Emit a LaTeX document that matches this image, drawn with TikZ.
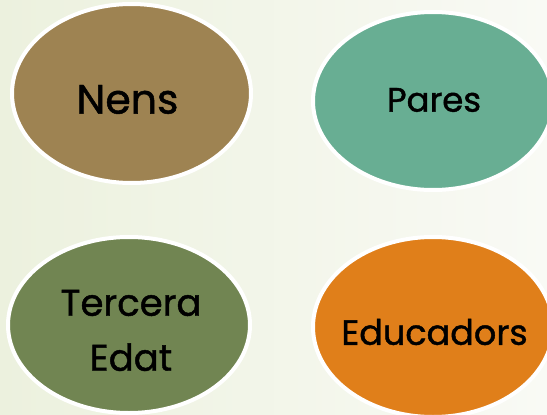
\documentclass[tikz,border=0pt]{standalone}
\usepackage{fontspec}
\setmainfont[FakeBold=1.2]{Poppins}
\usepackage{tikz}
\usetikzlibrary{shapes.geometric}
\definecolor{brown1}{RGB}{158, 131, 82}
\definecolor{green1}{RGB}{104, 174, 147}
\definecolor{olive1}{RGB}{113, 133, 82}
\definecolor{orange1}{RGB}{224, 127, 26}
\definecolor{bgleft}{RGB}{236, 241, 222}
\definecolor{bgright}{RGB}{249, 250, 245}

\begin{document}
\begin{tikzpicture}[x=1pt, y=-1pt,
  blob/.style={ellipse, draw=white, line width=4pt, inner sep=0pt},
  lbl/.style={inner sep=0pt, text=black, align=center}]
  \clip (0,0) rectangle (547,415);
  \shade[left color=bgleft, right color=bgright] (0,0) rectangle (547,415);

  \node[blob, fill=brown1, minimum width=239pt, minimum height=179pt] (nens) at (131.5,93.5) {};
  \node[blob, fill=green1, minimum width=240pt, minimum height=178pt] (pares) at (433,101) {};
  \node[blob, fill=olive1, minimum width=242pt, minimum height=176pt] (tercera) at (129,325) {};
  \node[blob, fill=orange1, minimum width=240pt, minimum height=180pt] (educadors) at (433,327) {};

  \node[lbl, font=\fontsize{41}{49}\selectfont] (nens-t) at (127.5,99.5) {Nens};
  \node[lbl, font=\fontsize{34}{41}\selectfont] (pares-t) at (434,100) {Pares};
  \node[lbl, font=\fontsize{37}{55}\selectfont] (tercera-t) at (131,330.5) {Tercera\\Edat};
  \node[lbl, font=\fontsize{35}{42}\selectfont] (educadors-t) at (434.5,332) {Educadors};
\end{tikzpicture}
\end{document}
